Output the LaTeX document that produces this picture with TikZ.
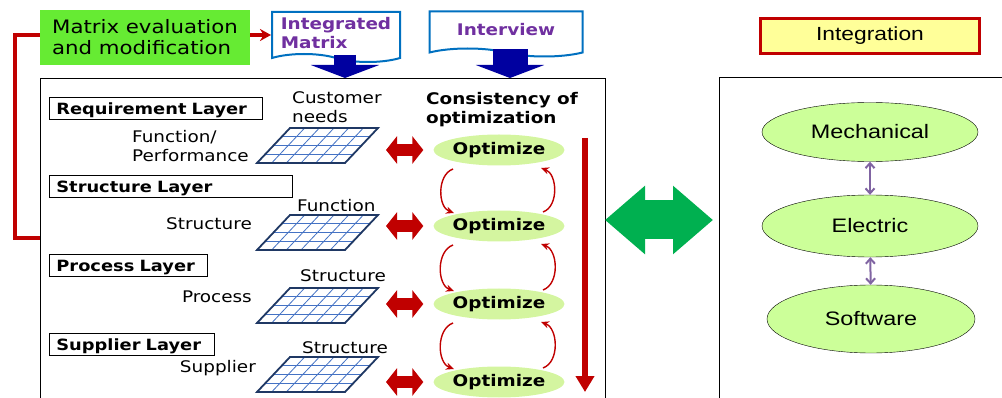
\documentclass[tikz,border=0pt]{standalone}
\usepackage{fontspec}
\setmainfont{DejaVu Sans}[FakeStretch=1.15]
\newfontfamily\arialf{Liberation Sans}[FakeStretch=1.2]
\usetikzlibrary{shapes.geometric, shapes.symbols, arrows.meta, calc}

\definecolor{brightgreen}{RGB}{102,235,51}
\definecolor{darkred}{RGB}{192,0,0}
\definecolor{docblue}{RGB}{0,112,192}
\definecolor{docpurple}{RGB}{112,48,160}
\definecolor{navy}{RGB}{0,0,160}
\definecolor{optgreen}{RGB}{212,245,160}
\definecolor{bigarrow}{RGB}{0,176,80}
\definecolor{paleyellow}{RGB}{255,255,153}
\definecolor{limegreen}{RGB}{204,255,153}
\definecolor{lilac}{RGB}{128,100,162}
\definecolor{gridline}{RGB}{68,114,196}
\definecolor{gridedge}{RGB}{31,56,100}

\begin{document}
\begin{tikzpicture}[x=1pt, y=1pt,
  txt/.style={font=\fontsize{16}{19}\selectfont, inner sep=0pt},
  bold/.style={font=\fontsize{16}{19}\selectfont\bfseries, inner sep=0pt},
  layer/.style={draw, thick, fill=white, font=\fontsize{15.5}{18}\selectfont\bfseries, anchor=west, text width=#1, align=left, inner xsep=7pt, inner ysep=0pt, text height=14pt, text depth=1pt, minimum height=22pt},
  doc/.style={tape, tape bend top=none, tape bend bottom=out and in, tape bend height=8pt, draw=docblue, line width=2pt, fill=white, text=docpurple, font=\fontsize{16}{19}\selectfont\bfseries, inner sep=2pt},
  opt/.style={ellipse, fill=optgreen, minimum width=119pt, minimum height=31pt, inner sep=0pt, font=\fontsize{16}{19}\selectfont\bfseries},
  part/.style={ellipse, draw, fill=limegreen, inner sep=0pt, font=\arialf\fontsize{19.5}{22}\selectfont},
  downarr/.style={navy, line width=#1, -{Triangle[width=68pt, length=13pt]}},
  linkarr/.style={darkred, line width=12pt, {Triangle[width=27pt, length=11pt]}-{Triangle[width=27pt, length=11pt]}},
  cyc/.style={darkred, line width=1.4pt, -{Stealth[length=8pt, width=7pt]}},
  purarr/.style={lilac, line width=2pt, {Straight Barb[length=5pt, width=9pt]}-{Straight Barb[length=5pt, width=9pt]}}]
\useasboundingbox (0,0) rectangle (1002,-398);

% top row
\node[fill=brightgreen, minimum width=210pt, minimum height=55pt, align=left, font=\fontsize{18.5}{21}\selectfont, inner sep=0pt] (eval) at (145,-37.5) {Matrix evaluation\\and modification};
\node[doc, minimum width=128pt, minimum height=50pt, align=left] (im) at (336,-33) {Integrated\\Matrix};
\node[doc, minimum width=153pt, minimum height=45pt] (iv) at (506,-30) {Interview};
\node[draw=darkred, line width=3pt, fill=paleyellow, minimum width=219pt, minimum height=35pt, font=\arialf\fontsize{19}{22}\selectfont] (integ) at (870,-36) {Integration};

% frames
\draw[thick] (40,-398) |- (605,-78) -- (605,-398);
\draw[thick] (719,-398) |- (1002,-77);
\coordinate (mtop) at (0,-78);
\coordinate (mleft) at (40,-238);

\draw[downarr=22pt] ([xshift=9pt]im.south) -- ([xshift=9pt]im.south |- mtop);
\draw[downarr=35pt] ([xshift=4pt]iv.south) -- ([xshift=4pt]iv.south |- mtop);
\draw[darkred, line width=3.5pt, -{Stealth[length=11pt, width=12pt]}] (eval.east |- 0,-35) -- (im.west |- 0,-35);
\draw[darkred, line width=4pt] (eval.west |- 0,-35) -| (15,-238) -- (mleft);

% layers
\node[layer=199pt] (req) at (49,-108.5) {Requirement Layer};
\node[layer=229pt] (str) at (49,-186) {Structure Layer};
\node[layer=144pt] (pro) at (49,-265) {Process Layer};
\node[layer=151pt] (sup) at (49,-344) {Supplier Layer};

\node[txt, align=left, anchor=east] (l1) at (249,-146) {Function/\\Performance};
\node[txt, anchor=east] (l2) at (252,-224) {Structure};
\node[txt, anchor=east] (l3) at (252,-297) {Process};
\node[txt, anchor=east] (l4) at (256,-368) {Supplier};
\node[txt, align=left, anchor=west] (c1) at (292,-107) {Customer\\needs};
\node[txt, anchor=west] (c2) at (297,-206) {Function};
\node[txt, anchor=west] (c3) at (300,-276) {Structure};
\node[txt, anchor=west] (c4) at (302,-348) {Structure};

% matrices
\foreach \n/\yb in {1/163, 2/250, 3/323, 4/392} {
  \begin{scope}[shift={(257,-\yb)}]
    \fill[white] (0,0) -- (88,0) -- (121,35) -- (33,35) -- cycle;
    \foreach \i in {1,...,5}
      \draw[gridline, thick] (\i*88/6,0) -- (\i*88/6+33,35);
    \foreach \j in {1,2,3}
      \draw[gridline, thick] (\j*33/4,\j*35/4) -- (\j*33/4+88,\j*35/4);
    \draw[gridedge, line width=1.8pt] (0,0) -- (88,0) -- (121,35) -- (33,35) -- cycle;
    \coordinate (g\n) at (131,17.5);
  \end{scope}
}

% optimization column
\node[bold, align=left] (cons) at (502,-110) {Consistency of\\optimization};
\node[opt] (o1) at (499,-150) {Optimize};
\node[opt] (o2) at (499,-226) {Optimize};
\node[opt] (o3) at (499,-304) {Optimize};
\node[opt] (o4) at (499,-382) {Optimize};

\foreach \n in {1,...,4}
  \draw[linkarr] (o\n.west -| 386,0) -- ([xshift=-10pt]o\n.west);

\foreach \a/\b in {o1/o2, o2/o3, o3/o4} {
  \draw[cyc] ($(\a)+(-46,-19)$) to[out=200, in=160] ($(\b)+(-45,13)$);
  \draw[cyc] ($(\b)+(44,14)$) to[out=20, in=-20] ($(\a)+(42,-18)$);
}

\coordinate (dtop) at (585,-138);
\coordinate (dbot) at (585,-392);
\draw[darkred, line width=6pt, -{Triangle[width=18pt, length=16pt]}] (dtop) -- (dbot);

% integration side
\draw[bigarrow, line width=39pt, {Triangle[width=66pt, length=40pt]}-{Triangle[width=66pt, length=40pt]}] (605,-220) -- (713,-220);

\node[part, minimum width=216pt, minimum height=59pt] (mech) at (870,-132) {Mechanical};
\node[part, minimum width=216pt, minimum height=62pt] (elec) at (870,-226) {Electric};
\node[part, minimum width=208pt, minimum height=68pt] (soft) at (871,-319) {Software};
\draw[purarr] (mech) -- (elec);
\draw[purarr] (elec) -- (soft);
\end{tikzpicture}
\end{document}
